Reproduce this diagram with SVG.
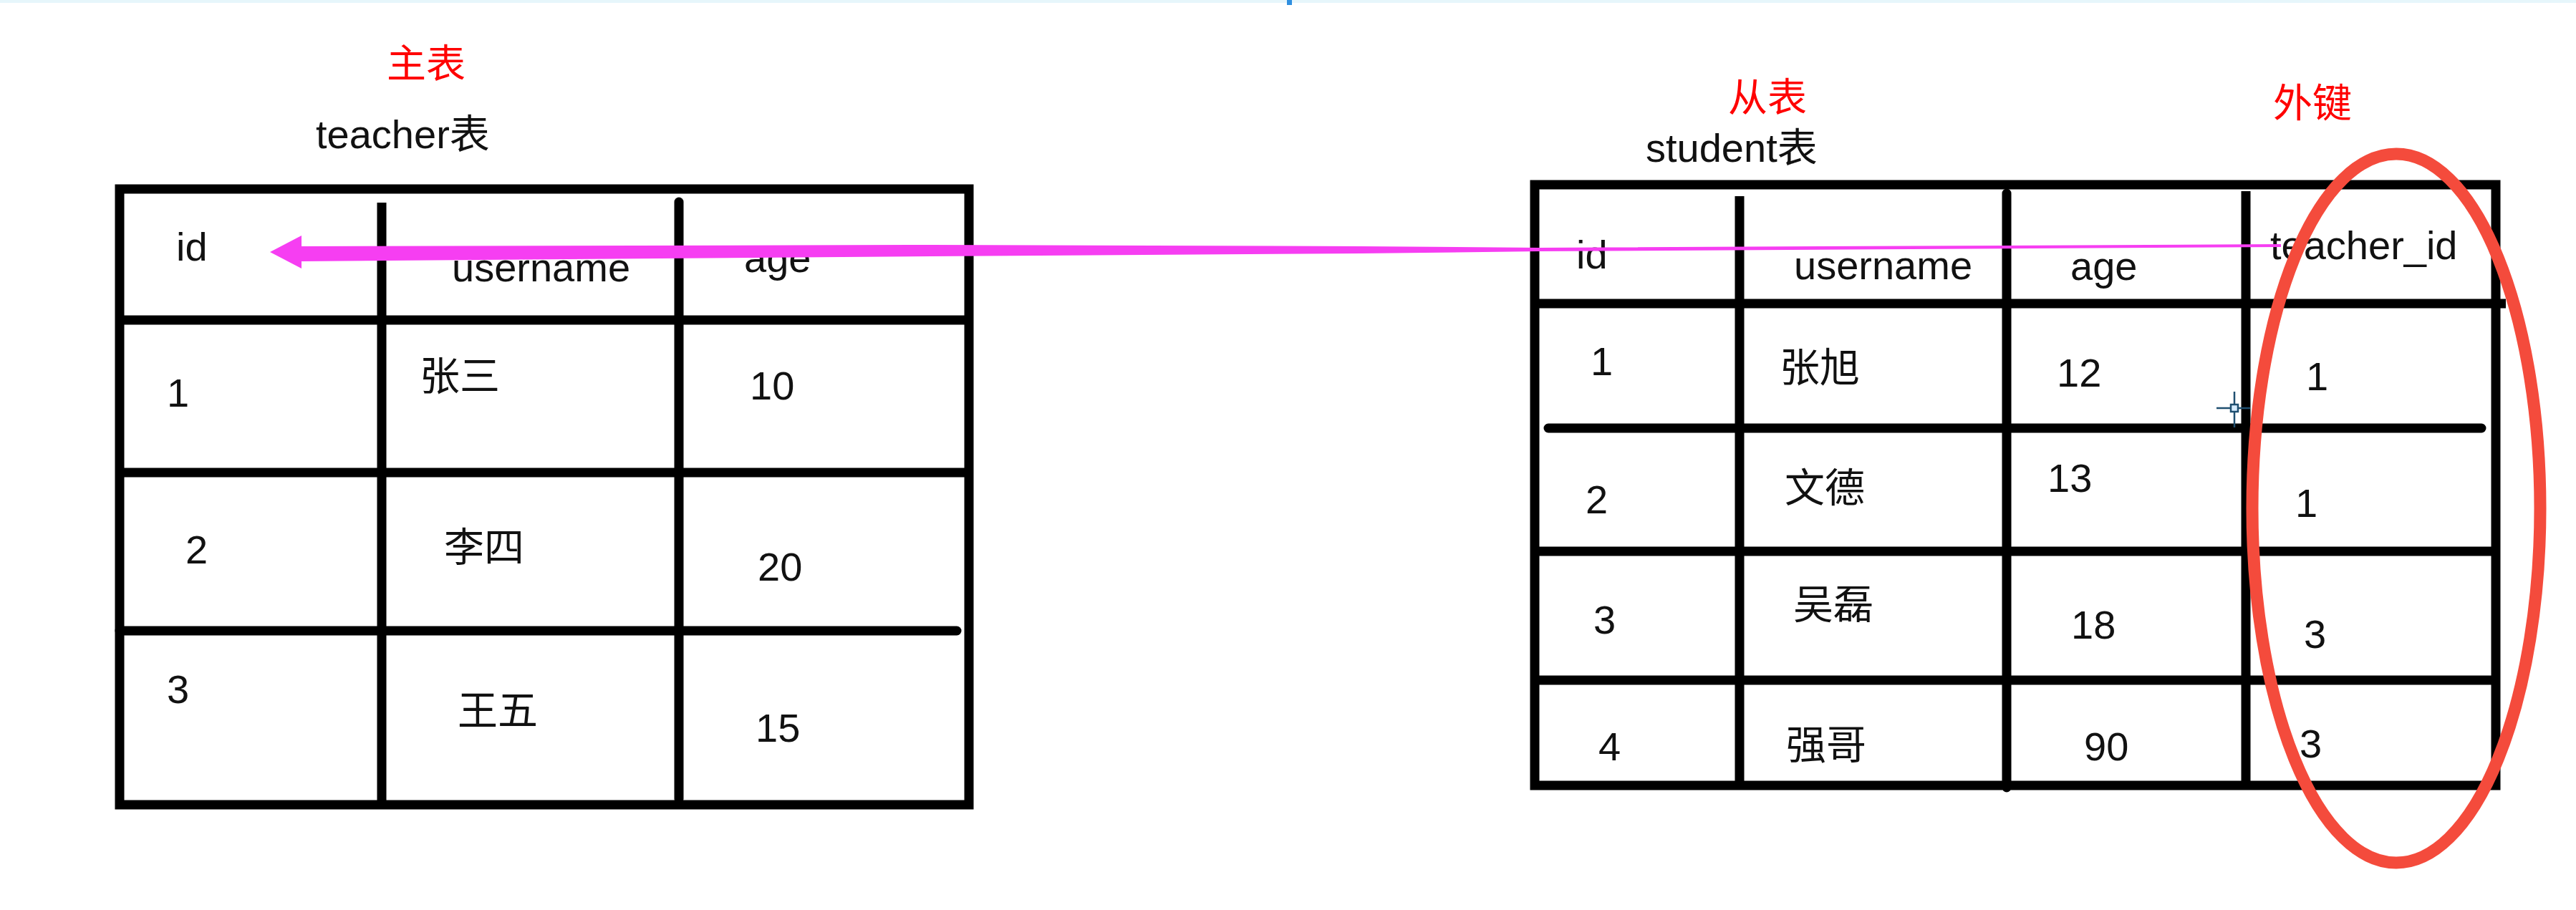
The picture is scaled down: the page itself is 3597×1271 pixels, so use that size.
<svg xmlns="http://www.w3.org/2000/svg" width="3597" height="1271" viewBox="0 0 3597 1271">
<style>
  .t { font-family: "Liberation Sans", "Noto Sans CJK SC", sans-serif; font-size: 56px; fill: #111; }
  .red { fill: #ff0000; font-size: 55px; }
  .grid { stroke: #000; stroke-width: 13; fill: none; stroke-linecap: butt; }
  .rnd { stroke-linecap: round; }
  .frame { stroke: #000; stroke-width: 13; fill: none; stroke-linejoin: miter; }
</style>
<rect x="0" y="0" width="3597" height="1271" fill="#ffffff"/>
<rect x="0" y="0" width="3597" height="4" fill="#e6f6fb"/>
<rect x="1797" y="0" width="7" height="7" fill="#2f8fe0"/>

<g id="teacher-title">
  <text class="t red" x="540" y="108">主表</text>
  <text class="t" x="441" y="207">teacher表</text>
</g>

<g id="teacher-table">
  <path class="frame" d="M167,264 H1353 V1124 H167 Z"/>
  <line class="grid" x1="533" y1="283" x2="533" y2="1124"/>
  <line class="grid rnd" x1="948" y1="282" x2="948" y2="1116"/>
  <line class="grid" x1="167" y1="447" x2="1353" y2="447"/>
  <line class="grid" x1="172" y1="660" x2="1353" y2="660"/>
  <line class="grid rnd" x1="167" y1="881" x2="1336" y2="881"/>
  <text class="t" x="246" y="364">id</text>
  <text class="t" x="631" y="393">username</text>
  <text class="t" x="1039" y="380">age</text>
  <text class="t" x="233" y="568">1</text>
  <text class="t" x="586" y="545">张三</text>
  <text class="t" x="1047" y="558">10</text>
  <text class="t" x="259" y="787">2</text>
  <text class="t" x="620" y="784">李四</text>
  <text class="t" x="1058" y="811">20</text>
  <text class="t" x="233" y="982">3</text>
  <text class="t" x="639" y="1012">王五</text>
  <text class="t" x="1055" y="1036">15</text>
</g>

<g id="student-title">
  <text class="t red" x="2413" y="155">从表</text>
  <text class="t red" x="3174" y="163">外键</text>
  <text class="t" x="2298" y="226">student表</text>
</g>

<g id="student-table">
  <path class="frame" d="M2143,258 H3485 V1097 H2143 Z"/>
  <line class="grid" x1="2429" y1="274" x2="2429" y2="1097"/>
  <line class="grid rnd" x1="2802" y1="270" x2="2802" y2="1100"/>
  <line class="grid" x1="3136" y1="267" x2="3136" y2="1097"/>
  <line class="grid" x1="2143" y1="424" x2="3499" y2="424"/>
  <line class="grid rnd" x1="2162" y1="598" x2="3465" y2="598"/>
  <line class="grid" x1="2143" y1="770" x2="3485" y2="770"/>
  <line class="grid" x1="2143" y1="950" x2="3485" y2="950"/>
  <text class="t" x="2201" y="375">id</text>
  <text class="t" x="2505" y="390">username</text>
  <text class="t" x="2891" y="391">age</text>
  <text class="t" x="3170" y="362">teacher_id</text>
  <text class="t" x="2221" y="524">1</text>
  <text class="t" x="2485" y="533">张旭</text>
  <text class="t" x="2872" y="540">12</text>
  <text class="t" x="3220" y="545">1</text>
  <text class="t" x="2214" y="717">2</text>
  <text class="t" x="2492" y="701">文德</text>
  <text class="t" x="2859" y="687">13</text>
  <text class="t" x="3205" y="722">1</text>
  <text class="t" x="2225" y="885">3</text>
  <text class="t" x="2504" y="864">吴磊</text>
  <text class="t" x="2892" y="892">18</text>
  <text class="t" x="3217" y="905">3</text>
  <text class="t" x="2232" y="1062">4</text>
  <text class="t" x="2494" y="1060">强哥</text>
  <text class="t" x="2910" y="1062">90</text>
  <text class="t" x="3211" y="1058">3</text>
</g>

<g id="connectors">
  <path id="fk-arrow" fill="#f63ef2" d="M377,352 L421,329 L421,344 L1300,342 L1900,344 L2150,346 L3185,341 L3185,345 L2150,351 L1900,354 L1300,358 L421,365 L421,375 Z"/>
</g>

<g id="fk-highlight">
  <ellipse cx="3346" cy="710" rx="201" ry="495" fill="none" stroke="#f44b3c" stroke-width="17"/>
</g>

<g id="cursor" stroke="#1f4f70" stroke-width="2.5" fill="none">
  <line x1="3095" y1="570" x2="3142" y2="570"/>
  <line x1="3120" y1="547" x2="3120" y2="597"/>
  <rect x="3115" y="565" width="10" height="10" fill="#d6ecff"/>
</g>
</svg>
